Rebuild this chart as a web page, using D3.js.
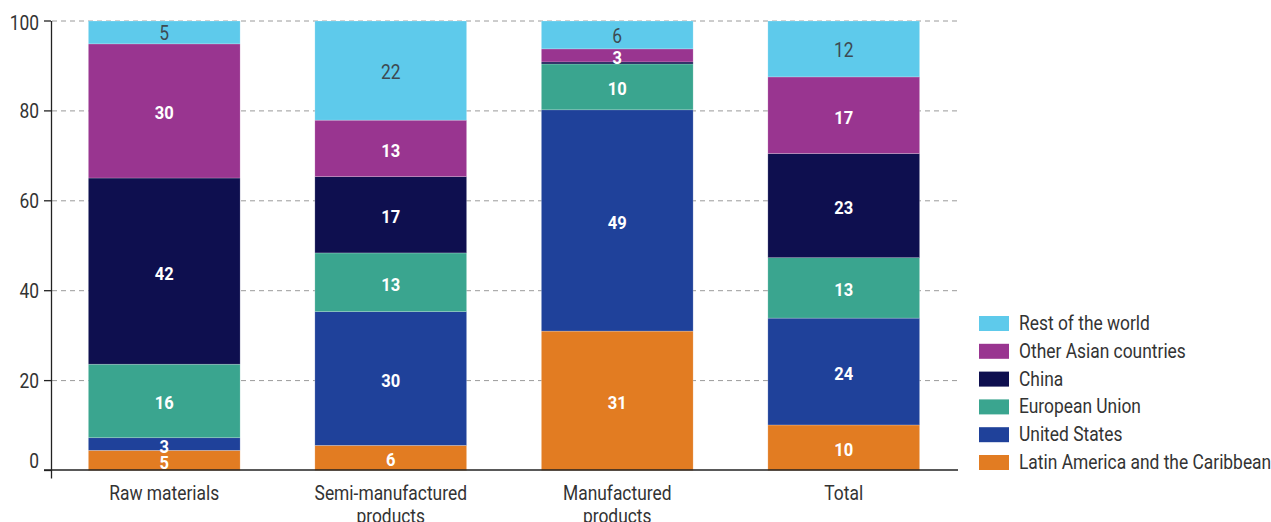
<!DOCTYPE html>
<html>
<head>
<meta charset="utf-8">
<script src="https://cdn.jsdelivr.net/npm/d3@7"></script>
<style>
  html, body { margin: 0; padding: 0; background: #fff; }
  svg { display: block; font-family: Roboto, "Noto Sans", sans-serif; }
</style>
</head>
<body>
<svg id="chart" width="1271" height="522"></svg>
<script>
// ---- data ----
const categories = [["Raw materials"], ["Semi-manufactured", "products"], ["Manufactured", "products"], ["Total"]];
const seriesNames = ["Latin America and the Caribbean", "United States", "European Union", "China", "Other Asian countries", "Rest of the world"];
const seriesColors = ["#e27c22", "#1f419a", "#3aa58f", "#0e0f4f", "#993590", "#5ecaeb"];
// values per series, in category order (Raw, Semi, Manufactured, Total)
const latinAmerica = [4.5, 5.6, 31.0, 10.1];
const unitedStates = [2.8, 29.8, 49.2, 23.7];
const europeanUnion = [16.4, 13.1, 10.2, 13.4];
const china = [41.5, 17.0, 0.45, 23.1];
const otherAsian = [29.9, 12.6, 2.9, 17.0];
const restOfWorld = [5.1, 22.1, 6.2, 12.4];
const yTicks = [0, 20, 40, 60, 80, 100];

const seriesValues = [latinAmerica, unitedStates, europeanUnion, china, otherAsian, restOfWorld];

// ---- layout ----
const svg = d3.select("#chart");
const x0 = 51, x1 = 957;
const yBottom = 470.5, yTop = 21;
const S = 0.87; // horizontal condensing of the font

const x = d3.scaleBand().domain(categories.map(c => c.join(" "))).range([x0, x1]).paddingInner(0.33).paddingOuter(0.165);
const y = d3.scaleLinear().domain([0, 100]).range([yBottom, yTop]);

const rows = categories.map((c, i) => {
  const r = { cat: c.join(" ") };
  seriesNames.forEach((s, j) => r[s] = seriesValues[j][i]);
  return r;
});
const stack = d3.stack().keys(seriesNames).offset(d3.stackOffsetExpand);
const stacked = stack(rows);
const yy = v => y(v * 100);

function ctext(g, tx, ty, str, opts) {
  const t = g.append("text")
    .attr("transform", `translate(${tx},${ty}) scale(${S},1)`)
    .attr("text-anchor", opts.anchor || "start")
    .attr("font-size", opts.size || 20)
    .attr("font-weight", opts.weight || 400)
    .attr("fill", opts.fill || "#333")
    .text(str);
  return t;
}

// gridlines
const grid = svg.append("g");
yTicks.filter(t => t > 0).forEach(t => {
  grid.append("line").attr("x1", x0 + 1).attr("x2", x1 + 1).attr("y1", y(t)).attr("y2", y(t))
    .attr("stroke", "#9a9a9a").attr("stroke-width", 1).attr("stroke-dasharray", "5,4");
});

// bars
const layers = svg.append("g").selectAll("g").data(stacked).join("g")
  .attr("fill", (d, i) => seriesColors[i]);
layers.selectAll("rect").data(d => d).join("rect")
  .attr("x", d => x(d.data.cat))
  .attr("width", x.bandwidth())
  .attr("y", d => yy(d[1]))
  .attr("height", d => yy(d[0]) - yy(d[1]))
  .attr("stroke", "rgba(255,255,255,0.35)")
  .attr("stroke-width", 0.6);

// bar labels
const lab = svg.append("g");
stacked.forEach((layer, i) => {
  layer.forEach((d, j) => {
    const v = seriesValues[i][j];
    if (v < 1) return;
    const cx = x(d.data.cat) + x.bandwidth() / 2;
    const cy = (yy(d[0]) + yy(d[1])) / 2;
    const isRest = seriesNames[i] === "Rest of the world";
    ctext(lab, cx, cy + (isRest ? 8 : 8.5), String(Math.round(v)), {
      anchor: "middle",
      size: isRest ? 20 : 19,
      weight: isRest ? 400 : 700,
      fill: isRest ? "#3d4a52" : "#ffffff"
    });
  });
});

// y axis
const ax = svg.append("g");
ax.append("line").attr("x1", x0 + 0.5).attr("x2", x0 + 0.5).attr("y1", yTop).attr("y2", yBottom + 8)
  .attr("stroke", "#222").attr("stroke-width", 1.3);
yTicks.forEach(t => {
  ax.append("line").attr("x1", x0 - 7).attr("x2", x0).attr("y1", y(t)).attr("y2", y(t))
    .attr("stroke", "#222").attr("stroke-width", 1.3);
  ctext(ax, 39, y(t) + (t === 0 ? -3 : (t === 100 ? 9 : 7)), String(t), { anchor: "end", size: 20 });
});
// baseline
ax.append("line").attr("x1", x0 - 7).attr("x2", x1 + 1).attr("y1", yBottom - 0.5).attr("y2", yBottom - 0.5)
  .attr("stroke", "#222").attr("stroke-width", 1.3);

// x category labels
categories.forEach(c => {
  const cx = x(c.join(" ")) + x.bandwidth() / 2;
  c.forEach((line, k) => ctext(ax, cx, 500 + k * 23, line, { anchor: "middle", size: 20 }));
});

// legend
const leg = svg.append("g");
const legendOrder = seriesNames.slice().reverse();
legendOrder.forEach((name, k) => {
  const idx = seriesNames.indexOf(name);
  const ly = 316 + k * 27.8;
  leg.append("rect").attr("x", 979).attr("y", ly).attr("width", 30).attr("height", 15).attr("fill", seriesColors[idx]);
  ctext(leg, 1019, ly + 14, name, { size: 20 });
});
</script>
</body>
</html>
